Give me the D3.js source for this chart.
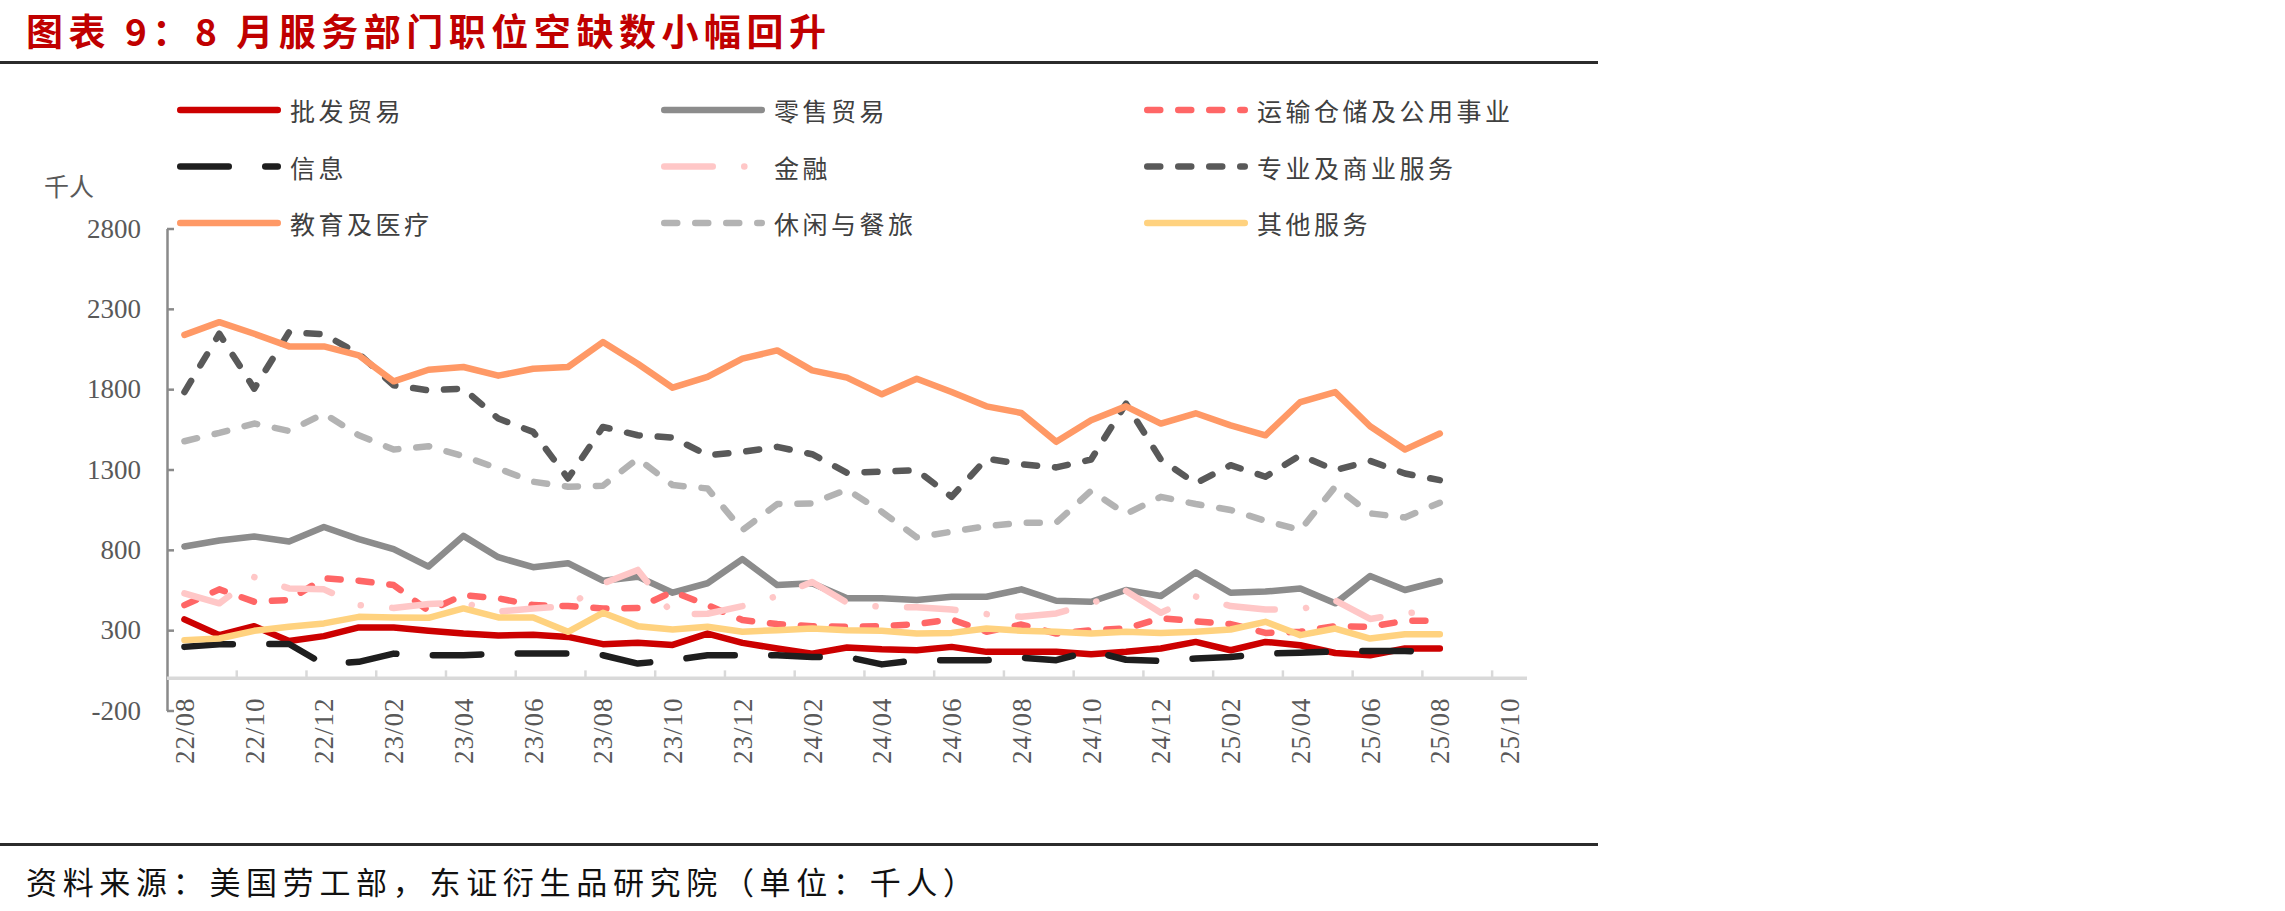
<!DOCTYPE html>
<html>
<head>
<meta charset="utf-8">
<script src="https://cdn.jsdelivr.net/npm/d3@7"></script>
<style>
  body { margin: 0; background: #fff; }
  svg { display: block; }
</style>
</head>
<body>
<svg id="chart" width="2285" height="911"></svg>
<script>
// categories (monthly), only every 2nd one gets a label
let months = ["22/08","22/09","22/10","22/11","22/12","23/01","23/02","23/03","23/04","23/05","23/06","23/07",
  "23/08","23/09","23/10","23/11","23/12","24/01","24/02","24/03","24/04","24/05","24/06","24/07",
  "24/08","24/09","24/10","24/11","24/12","25/01","25/02","25/03","25/04","25/05","25/06","25/07",
  "25/08","25/09","25/10"];
let yTicks = [-200, 300, 800, 1300, 1800, 2300, 2800];

// job openings, thousands (22/08 .. 25/08)
let wholesale = [367,269,325,233,263,317,317,296,279,267,271,258,213,221,208,279,221,186,154,192,181,175,196,165,165,165,150,165,186,227,175,227,206,158,144,186,186];
let retail = [821,858,883,852,942,867,804,696,887,754,692,717,608,633,533,592,742,581,592,498,498,488,508,508,554,483,477,550,513,660,533,540,560,467,637,550,606];
let transport = [456,554,477,488,623,608,581,420,519,498,456,450,435,438,540,456,363,338,325,321,325,338,367,290,335,279,300,310,375,355,338,283,290,325,321,358,358];
let information = [196,212,213,214,88,103,154,144,144,154,154,154,144,92,113,144,144,144,133,133,87,113,113,113,129,113,171,116,108,123,133,154,160,167,171,171,160];
let finance = [529,467,630,560,554,456,438,463,470,415,435,450,590,675,400,402,450,512,600,471,444,442,429,400,383,404,467,544,408,510,450,429,429,485,370,405,420];
let professional = [1782,2145,1803,2155,2141,2020,1824,1793,1803,1617,1534,1244,1565,1513,1499,1389,1410,1441,1395,1280,1286,1296,1130,1368,1333,1313,1362,1710,1362,1213,1327,1255,1389,1296,1354,1275,1234];
let eduHealth = [2138,2217,2145,2066,2066,2010,1849,1921,1938,1884,1927,1938,2093,1958,1809,1876,1990,2041,1917,1872,1768,1865,1782,1693,1652,1472,1607,1693,1586,1650,1575,1513,1720,1782,1569,1424,1524];
let leisure = [1476,1528,1586,1540,1648,1513,1424,1445,1383,1306,1224,1193,1199,1368,1203,1182,923,1085,1089,1176,1037,878,913,948,969,969,1168,1023,1130,1085,1048,981,923,1193,1027,1002,1093];
let otherSvc = [238,248,296,321,342,383,379,377,435,379,379,290,408,325,304,321,290,300,310,300,296,279,283,310,296,290,279,290,283,290,304,352,269,310,248,275,275];

let names = ["批发贸易","零售贸易","运输仓储及公用事业","信息","金融","专业及商业服务","教育及医疗","休闲与餐旅","其他服务"];

// styles per series (same order as names)
let series = [
  {values: wholesale, color: "#CC0000", dash: null},
  {values: retail, color: "#8C8C8C", dash: null},
  {values: transport, color: "#FF6666", dash: "13 18"},
  {values: information, color: "#1E1E1E", dash: "48.5 36.5"},
  {values: finance, color: "#FFC7C7", dash: "48.5 31.5 0.1 31.5"},
  {values: professional, color: "#595959", dash: "13 18"},
  {values: eduHealth, color: "#FF9966", dash: null},
  {values: leisure, color: "#B3B3B3", dash: "13 18"},
  {values: otherSvc, color: "#FFD27F", dash: null}
];

let svg = d3.select("#chart");
svg.append("rect").attr("width", 2285).attr("height", 911).attr("fill", "#fff");

let x = d3.scaleBand().domain(months).range([167, 1527]);
let y = d3.scaleLinear().domain([-200, 2800]).range([710.5, 228.5]);
let half = x.bandwidth() / 2;

// title + rules
svg.append("text")
  .attr("x", 26).attr("y", 30)
  .attr("dominant-baseline", "central")
  .attr("textLength", 800).attr("lengthAdjust", "spacing")
  .style("font-family", "'Noto Sans CJK SC'")
  .style("font-weight", "bold")
  .style("font-size", "37px")
  .style("fill", "#C00000")
  .text("图表 9：8 月服务部门职位空缺数小幅回升");

svg.append("line").attr("x1", 0).attr("x2", 1598).attr("y1", 62.5).attr("y2", 62.5)
  .attr("stroke", "#2b2b2b").attr("stroke-width", 3);
svg.append("line").attr("x1", 0).attr("x2", 1598).attr("y1", 844.5).attr("y2", 844.5)
  .attr("stroke", "#2b2b2b").attr("stroke-width", 3);

svg.append("text")
  .attr("x", 26).attr("y", 880)
  .attr("dominant-baseline", "central")
  .attr("textLength", 948).attr("lengthAdjust", "spacing")
  .style("font-family", "'Noto Sans CJK SC'")
  .style("font-size", "31px")
  .style("fill", "#111")
  .text("资料来源：美国劳工部，东证衍生品研究院（单位：千人）");

// unit label
svg.append("text")
  .attr("x", 44).attr("y", 185)
  .attr("dominant-baseline", "central")
  .style("font-family", "'Noto Sans CJK SC'")
  .style("font-size", "25px")
  .style("fill", "#595959")
  .text("千人");

// y axis
let yAxis = svg.append("g")
  .attr("transform", "translate(167,0)")
  .call(d3.axisLeft(y).tickValues(yTicks).tickFormat(d => String(d))
    .tickSizeInner(-7).tickSizeOuter(0).tickPadding(26));
yAxis.select(".domain").attr("stroke", "#8a8a8a").attr("stroke-width", 2.5);
yAxis.selectAll(".tick line").attr("stroke", "#8a8a8a").attr("stroke-width", 2.5);
yAxis.selectAll(".tick text")
  .style("font-family", "'Liberation Serif'")
  .style("font-size", "27px")
  .style("fill", "#595959");

// x axis on the zero line, ticks every 2 months between categories
let xAxis = svg.append("g")
  .attr("transform", "translate(0," + y(0) + ")")
  .call(d3.axisBottom(x).tickValues(months.filter((d, i) => i % 2 == 0)).tickSize(0));
xAxis.select(".domain").remove();
xAxis.selectAll(".tick text")
  .attr("transform", "rotate(-90)")
  .attr("x", -19).attr("y", 0).attr("dy", "0.35em")
  .style("text-anchor", "end")
  .style("letter-spacing", "1px")
  .style("font-family", "'Liberation Serif'")
  .style("font-size", "27px")
  .style("fill", "#595959");

xAxis.selectAll("line.boundary")
  .data(months.filter((d, i) => i % 2 == 0 && i > 0))
  .join("line")
  .attr("class", "boundary")
  .attr("x1", d => x(d)).attr("x2", d => x(d))
  .attr("y1", 0).attr("y2", -8)
  .attr("stroke", "#D9D9D9").attr("stroke-width", 2.5);
xAxis.append("line")
  .attr("x1", 167).attr("x2", 1527).attr("y1", 0).attr("y2", 0)
  .attr("stroke", "#D9D9D9").attr("stroke-width", 3.5);

// lines
let line = d3.line()
  .x((d, i) => x(months[i]) + half)
  .y(d => y(d));

svg.append("g").selectAll("path")
  .data(series)
  .join("path")
  .attr("d", d => line(d.values))
  .attr("fill", "none")
  .attr("stroke", d => d.color)
  .attr("stroke-width", 6.5)
  .attr("stroke-linecap", "round")
  .attr("stroke-linejoin", "round")
  .attr("stroke-dasharray", d => d.dash);

// legend 3 x 3
let legend = svg.append("g").attr("class", "legend");
let colX = [177, 661, 1144];
let rowY = [110, 166.5, 223];
series.forEach(function (s, i) {
  let cx = colX[i % 3], cy = rowY[Math.floor(i / 3)];
  legend.append("line")
    .attr("x1", cx + 3.25).attr("x2", cx + 104 - 3.25)
    .attr("y1", cy).attr("y2", cy)
    .attr("stroke", s.color)
    .attr("stroke-width", 6.5)
    .attr("stroke-linecap", "round")
    .attr("stroke-dasharray", s.dash);
  legend.append("text")
    .attr("x", cx + 113).attr("y", cy)
    .attr("dominant-baseline", "central")
    .style("font-family", "'Noto Sans CJK SC'")
    .style("font-size", "25px")
    .style("letter-spacing", "3.5px")
    .style("fill", "#404040")
    .text(names[i]);
});
</script>
</body>
</html>
